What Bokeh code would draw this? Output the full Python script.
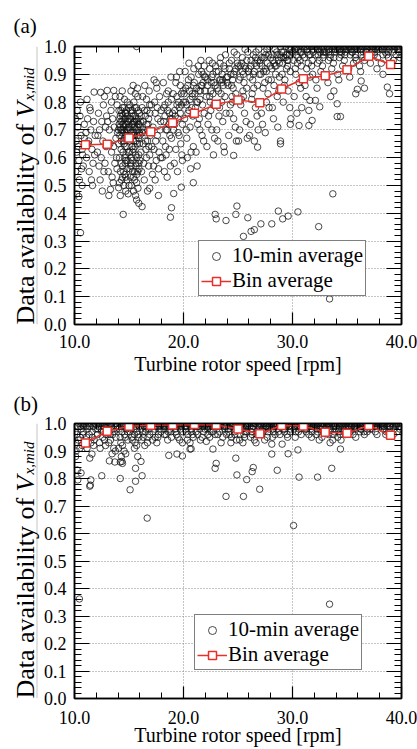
import math
from bokeh.plotting import figure
from bokeh.layouts import column, row
from bokeh.models import (Range1d, LinearAxis, SingleIntervalTicker, PrintfTickFormatter,
                          CustomJSTickFormatter, Legend, LegendItem)
from bokeh.core.properties import value
from bokeh.embed import file_html
from bokeh.resources import INLINE

# ---------------- data ----------------
bin_x = [11, 13, 15, 17, 19, 21, 23, 25, 27, 29, 31, 33, 35, 37, 39]
bin_a = [0.647, 0.648, 0.671, 0.693, 0.726, 0.760, 0.792, 0.808, 0.798, 0.847,
         0.884, 0.895, 0.916, 0.965, 0.935]
bin_b = [0.929, 0.972, 0.990, 0.994, 0.995, 0.996, 0.995, 0.980, 0.963, 0.993,
         0.991, 0.968, 0.965, 0.993, 0.957]

scatter_a = [
    (10.1,.55),(10.2,.62),(10.3,.71),(10.15,.66),(10.4,.59),(10.5,.75),(10.6,.68),(10.25,.77),(10.7,.63),(10.8,.57),(10.45,.52),(10.9,.72),(10.35,.64),(10.55,.80),(10.75,.61),(10.2,.47),(10.55,.33),(10.7,.50),(10.4,.46),(10.9,.67),(10.1,.74),(10.65,.56),
    (11.1,.60),(11.3,.66),(11.5,.70),(11.2,.74),(11.7,.58),(11.8,.836),(11.4,.78),(11.6,.63),(11.9,.68),(11.35,.55),(11.05,.69),(11.55,.52),(11.75,.73),(11.25,.65),(11.85,.61),(11.45,.77),(11.15,.81),(11.65,.50),
    (12.1,.62),(12.4,.835),(12.3,.70),(12.6,.66),(12.8,.58),(12.2,.76),(12.5,.73),(12.7,.55),(12.9,.64),(12.15,.68),(12.45,.60),(12.65,.79),(12.85,.71),(12.35,.52),(12.55,.48),(12.95,.75),(12.25,.57),(12.75,.82),
    (13.0,.842),(13.15,.464),(13.3,.486),(13.1,.55),(13.4,.62),(13.6,.842),(13.2,.70),(13.5,.74),(13.7,.58),(13.8,.67),(13.9,.79),(13.25,.65),(13.45,.53),(13.65,.71),(13.85,.60),(13.35,.77),(13.55,.51),(13.75,.82),(13.95,.69),(13.05,.73),(13.6,.64),(13.9,.56),(13.4,.80),
    (14.05,.492),(14.2,.464),(14.47,.396),(14.7,.48),(14.1,.72),(14.15,.68),(14.2,.75),(14.25,.70),(14.3,.66),(14.35,.73),(14.4,.78),(14.45,.62),(14.5,.71),(14.55,.74),(14.6,.69),(14.65,.58),(14.7,.76),(14.75,.72),(14.8,.64),(14.85,.80),(14.9,.67),(14.95,.73),(14.12,.60),(14.22,.55),(14.32,.52),(14.42,.57),(14.52,.50),(14.62,.54),(14.72,.61),(14.82,.56),(14.92,.47),(14.18,.82),(14.38,.84),(14.58,.81),(14.78,.77),(14.88,.70),(14.28,.63),(14.48,.66),(14.68,.74),(14.08,.77),(14.33,.70),(14.63,.72),(14.83,.68),(14.43,.75),(14.53,.65),(14.73,.59),(14.93,.62),(14.13,.51),
    (14.02,.70),(14.14,.74),(14.26,.77),(14.36,.69),(14.46,.72),(14.56,.67),(14.66,.76),(14.76,.70),(14.86,.73),(14.96,.78),(14.06,.65),(14.16,.71),(14.24,.73),(14.34,.76),(14.44,.70),(14.54,.78),(14.64,.64),(14.74,.68),(14.84,.75),(14.94,.71),
    (14.3,.58),(14.5,.55),(14.7,.53),(14.9,.59),(14.4,.53),(14.6,.60),(14.8,.52),
    (15.05,.71),(15.1,.66),(15.15,.74),(15.2,.60),(15.25,.69),(15.3,.77),(15.35,.72),(15.4,.63),(15.45,.80),(15.5,.68),(15.55,.75),(15.6,.464),(15.7,.448),(15.9,.436),(15.65,.57),(15.7,.73),(15.75,.65),(15.8,.82),(15.85,.70),(15.9,.61),(15.95,.76),(15.12,.53),(15.22,.50),(15.32,.55),(15.42,.48),(15.52,.52),(15.62,.58),(15.72,.54),(15.82,.49),(15.92,.56),(15.18,.84),(15.38,.86),(15.58,.83),(15.78,.85),(15.28,.64),(15.48,.71),(15.68,.78),(15.88,.67),(15.08,.79),(15.33,.62),(15.63,.70),(15.83,.74),(15.43,.66),(15.53,.73),(15.73,.60),(15.93,.72),(15.15,.58),(15.7,1.0),
    (15.02,.74),(15.14,.70),(15.24,.76),(15.34,.68),(15.44,.73),(15.54,.78),(15.64,.66),(15.74,.71),(15.84,.77),(15.94,.69),(15.06,.62),(15.16,.77),(15.26,.72),(15.36,.75),(15.46,.69),(15.56,.64),(15.66,.74),(15.76,.68),(15.86,.72),(15.96,.65),
    (15.1,.56),(15.3,.59),(15.5,.55),(15.7,.51),(15.9,.58),(15.0,.50),(15.2,.57),(15.4,.53),(15.6,.61),(15.8,.55),(16.0,.59),
    (16.2,.424),(16.7,.48),(16.9,.49),(16.1,.62),(16.3,.70),(16.5,.75),(16.7,.66),(16.9,.79),(16.15,.55),(16.35,.58),(16.55,.63),(16.75,.72),(16.95,.68),(16.25,.82),(16.45,.86),(16.65,.77),(16.85,.84),(16.05,.73),(16.4,.52),(16.6,.60),(16.8,.57),(16.2,.78),(16.5,.69),(16.8,.74),(16.3,.65),(16.6,.81),(16.9,.61),(16.0,.68),
    (16.02,.71),(16.12,.75),(16.22,.69),(16.32,.73),(16.42,.77),(16.52,.66),(16.62,.72),(16.72,.70),(16.82,.64),(16.92,.76),
    (17.3,.88),(17.7,.464),(17.1,.64),(17.2,.71),(17.4,.76),(17.5,.59),(17.6,.68),(17.8,.82),(17.9,.73),(17.15,.54),(17.35,.80),(17.55,.85),(17.75,.62),(17.95,.77),(17.25,.57),(17.45,.66),(17.65,.74),(17.85,.70),(17.05,.79),(17.5,.87),(17.7,.56),(17.3,.63),(17.9,.60),(17.6,.78),(17.4,.52),
    (18.8,.386),(18.9,.42),(18.1,.66),(18.2,.73),(18.3,.79),(18.4,.61),(18.5,.70),(18.6,.84),(18.7,.76),(18.8,.57),(18.9,.81),(18.15,.87),(18.35,.64),(18.55,.77),(18.75,.68),(18.95,.74),(18.25,.55),(18.45,.83),(18.65,.72),(18.85,.89),(18.05,.60),(18.5,.53),(18.7,.63),(18.3,.75),(18.9,.67),
    (18.2,.78),(18.6,.80),(18.4,.70),(18.8,.74),
    (19.1,.471),(19.8,.494),(19.1,.70),(19.2,.77),(19.3,.63),(19.4,.82),(19.5,.74),(19.6,.68),(19.7,.86),(19.8,.79),(19.9,.72),(19.15,.58),(19.35,.89),(19.55,.80),(19.75,.65),(19.95,.84),(19.25,.75),(19.45,.55),(19.65,.91),(19.85,.61),(19.05,.83),(19.5,.69),(19.7,.76),(19.3,.87),(19.9,.59),
    (19.0,.76),(19.4,.79),(19.8,.83),(19.2,.72),(19.6,.78),
    (20.9,.51),(20.1,.74),(20.2,.80),(20.3,.67),(20.4,.86),(20.5,.77),(20.6,.71),(20.7,.89),(20.8,.82),(20.9,.64),(20.15,.91),(20.35,.60),(20.55,.84),(20.75,.78),(20.95,.92),(20.25,.70),(20.45,.88),(20.65,.56),(20.85,.75),(20.05,.83),(20.5,.94),(20.7,.62),(20.3,.79),(20.9,.86),
    (20.2,.85),(20.6,.81),(20.0,.80),(20.4,.76),(20.8,.83),
    (21.1,.78),(21.2,.85),(21.3,.72),(21.4,.90),(21.5,.81),(21.6,.95),(21.7,.68),(21.8,.87),(21.9,.76),(21.15,.62),(21.35,.93),(21.55,.84),(21.75,.79),(21.95,.89),(21.25,.57),(21.45,.74),(21.65,.91),(21.85,.66),(21.05,.83),(21.5,.70),(21.7,.86),(21.3,.80),(21.9,.93),
    (21.0,.87),(21.4,.84),(21.8,.90),(21.2,.80),(21.6,.86),
    (22.1,.82),(22.2,.88),(22.3,.75),(22.4,.92),(22.5,.84),(22.6,.70),(22.7,.90),(22.8,.79),(22.9,.86),(22.15,.64),(22.35,.95),(22.55,.87),(22.75,.61),(22.95,.93),(22.25,.72),(22.45,.80),(22.65,.94),(22.85,.67),(22.05,.89),(22.9,.396),(23.0,.38),(22.5,.77),(22.7,.83),
    (22.2,.86),(22.6,.89),(22.0,.84),(22.4,.82),(22.8,.87),
    (23.1,.85),(23.2,.91),(23.3,.78),(23.4,.96),(23.5,.87),(23.6,.73),(23.7,.93),(23.8,.82),(23.9,.374),(23.95,.89),(23.15,.66),(23.35,.94),(23.55,.90),(23.75,.62),(23.85,.97),(23.25,.75),(23.45,.83),(23.65,.86),(23.05,.70),(23.5,.80),(23.7,.64),(23.3,.88),(23.9,.76),
    (23.0,.91),(23.4,.88),(23.8,.92),(23.2,.84),(23.6,.88),
    (24.8,.396),(24.9,.426),(24.6,.608),(24.1,.86),(24.2,.92),(24.3,.79),(24.4,.95),(24.5,.88),(24.6,.74),(24.7,.91),(24.8,.83),(24.9,.97),(24.15,.68),(24.35,.90),(24.55,.85),(24.75,.71),(24.95,.94),(24.25,.76),(24.45,.82),(24.65,.98),(24.05,.89),(24.85,.66),(24.5,.80),
    (24.2,.94),(24.6,.90),(24.0,.87),(24.4,.86),(24.8,.92),
    (25.9,.384),(25.5,.317),(25.1,.88),(25.2,.93),(25.3,.81),(25.4,.96),(25.5,.90),(25.6,.76),(25.7,.92),(25.8,.85),(25.9,.98),(25.15,.70),(25.35,.94),(25.55,.87),(25.75,.73),(25.95,.91),(25.25,.79),(25.45,.84),(25.65,.99),(25.05,.66),(25.85,.67),(25.5,.82),
    (25.0,.93),(25.4,.91),(25.8,.95),(25.2,.89),(25.6,.93),
    (26.2,.335),(26.5,.341),(26.8,.638),(26.1,.89),(26.2,.95),(26.3,.83),(26.4,.97),(26.5,.91),(26.6,.78),(26.7,.93),(26.8,.86),(26.9,.99),(26.15,.72),(26.35,.88),(26.55,.94),(26.75,.75),(26.95,.90),(26.25,.81),(26.45,.85),(26.65,.98),(26.05,.68),(26.85,.70),(26.5,.66),
    (26.2,.93),(26.6,.96),(26.0,.92),(26.4,.90),(26.8,.95),
    (27.1,.362),(27.1,.90),(27.2,.96),(27.3,.85),(27.4,.98),(27.5,.92),(27.6,.80),(27.7,.94),(27.8,.88),(27.9,1.0),(27.15,.76),(27.35,.91),(27.55,.97),(27.75,.83),(27.95,.93),(27.25,.72),(27.45,.87),(27.65,.99),(27.85,.78),(27.5,.69),(27.05,.95),
    (27.0,.94),(27.4,.96),(27.8,.97),(27.2,.93),(27.6,.91),
    (28.1,.362),(28.7,.408),(28.9,.66),(28.9,.65),(28.1,.92),(28.2,.97),(28.3,.86),(28.4,.99),(28.5,.93),(28.6,.82),(28.7,.95),(28.8,.89),(28.9,1.0),(28.15,.78),(28.35,.94),(28.55,.98),(28.75,.84),(28.95,.96),(28.25,.74),(28.45,.90),(28.65,.71),(28.85,.97),(28.05,.88),
    (28.2,.95),(28.6,.97),(28.0,.96),(28.4,.93),(28.8,.94),
    (29.1,.38),(29.6,.39),(29.1,.94),(29.2,.98),(29.3,.88),(29.4,1.0),(29.5,.95),(29.6,.84),(29.7,.97),(29.8,.91),(29.9,.99),(29.15,.80),(29.35,.96),(29.55,.93),(29.75,.78),(29.95,.98),(29.25,.86),(29.45,.92),(29.65,.99),(29.85,.74),(29.05,.90),(29.8,.72),(29.5,.97),
    (29.0,.98),(29.4,.97),(29.8,.99),(29.2,.96),(29.6,.95),
    (30.5,.405),(30.6,.28),(30.6,.716),(30.1,.95),(30.2,.99),(30.3,.90),(30.4,1.0),(30.5,.96),(30.6,.87),(30.7,.98),(30.8,.93),(30.9,1.0),(30.15,.82),(30.35,.97),(30.55,.99),(30.75,.85),(30.95,.97),(30.25,.92),(30.45,.94),(30.65,1.0),(30.85,.78),(30.05,.98),(30.4,.76),(30.7,.95),
    (30.3,.99),(30.8,.98),
    (31.5,.716),(31.8,.734),(31.6,.806),(31.5,.77),(31.1,.96),(31.2,1.0),(31.3,.92),(31.4,.99),(31.5,.97),(31.6,.89),(31.7,1.0),(31.8,.95),(31.9,.98),(31.15,.86),(31.35,.98),(31.55,1.0),(31.75,.93),(31.95,.99),(31.25,.82),(31.45,.94),(31.65,.97),(31.85,.90),(31.05,.99),
    (31.3,.99),(31.8,1.0),
    (32.4,.352),(32.5,.783),(32.1,.806),(32.1,.97),(32.2,1.0),(32.3,.94),(32.4,.99),(32.5,.98),(32.6,.91),(32.7,1.0),(32.8,.96),(32.9,.99),(32.15,.88),(32.35,.97),(32.55,1.0),(32.75,.93),(32.95,.98),(32.25,.85),(32.45,.95),(32.65,.99),(32.85,.97),(32.05,1.0),
    (32.3,.99),(32.8,.98),
    (33.7,.47),(33.4,.092),(33.5,.82),(33.8,.84),(33.1,.98),(33.2,1.0),(33.3,.95),(33.4,.99),(33.5,.97),(33.6,.92),(33.7,1.0),(33.8,.96),(33.9,.99),(33.15,.89),(33.35,.98),(33.55,1.0),(33.75,.94),(33.95,.99),(33.25,.87),(33.45,.96),(33.65,.99),(33.85,.98),
    (33.3,.99),(33.8,1.0),
    (34.1,.748),(34.4,.748),(34.1,.794),(34.1,.99),(34.2,1.0),(34.3,.96),(34.4,.99),(34.5,.98),(34.6,.93),(34.7,1.0),(34.8,.97),(34.9,1.0),(34.15,.90),(34.35,.98),(34.55,1.0),(34.75,.95),(34.95,.99),(34.25,.88),(34.45,.97),(34.65,.99),(34.85,.98),
    (34.3,.99),(34.8,.99),
    (35.8,.83),(35.95,.846),(35.1,.99),(35.2,1.0),(35.3,.97),(35.4,.99),(35.5,.98),(35.6,.94),(35.7,1.0),(35.8,.97),(35.9,1.0),(35.15,.92),(35.35,.99),(35.55,1.0),(35.75,.96),(35.95,.99),(35.25,.89),(35.45,.98),(35.65,.99),(35.85,.95),
    (35.3,1.0),(35.8,.99),
    (36.3,.876),(36.6,.85),(36.1,1.0),(36.2,.99),(36.3,.97),(36.4,1.0),(36.5,.98),(36.6,.95),(36.7,1.0),(36.8,.99),(36.9,.97),(36.15,.93),(36.35,.99),(36.55,1.0),(36.75,.98),(36.95,1.0),(36.25,.91),(36.45,.96),
    (36.3,1.0),(36.8,.98),
    (37.1,1.0),(37.2,.99),(37.3,.98),(37.4,1.0),(37.5,.97),(37.6,.99),(37.7,1.0),(37.8,.96),(37.9,.99),(37.15,.94),(37.35,1.0),(37.55,.98),(37.75,.92),(37.95,1.0),(37.45,.99),
    (37.3,.99),(37.8,1.0),
    (38.3,.90),(38.7,.854),(38.9,.83),(38.1,1.0),(38.2,.99),(38.3,.97),(38.4,1.0),(38.5,.98),(38.6,.99),(38.7,1.0),(38.8,.96),(38.9,.99),(38.15,.94),(38.45,1.0),(38.65,.97),(38.85,1.0),
    (38.3,.99),(38.8,.98),
    (39.1,1.0),(39.2,.98),(39.3,.99),(39.4,1.0),(39.5,.97),(39.6,.99),(39.7,1.0),(39.8,.98),(39.9,.99),(39.25,.95),(39.55,1.0),(39.85,.96),
    (39.3,1.0),(39.7,.99),
]

scatter_b = [
    (10.1,.93),(10.2,.96),(10.3,.99),(10.4,1.0),(10.5,.95),(10.6,.98),(10.7,.92),(10.8,.97),(10.9,1.0),(10.15,.90),(10.35,.94),(10.55,.99),(10.75,.96),(10.95,.93),(10.25,.831),(10.3,.795),(10.6,.82),(10.45,.362),(10.1,.88),(10.65,1.0),(10.85,.99),(10.05,.97),(10.5,.91),
    (11.4,.874),(11.6,.889),(11.5,.795),(11.45,.776),(11.4,.772),(11.1,.95),(11.2,.98),(11.3,1.0),(11.5,.93),(11.6,.97),(11.7,.99),(11.8,.94),(11.9,1.0),(11.15,.91),(11.35,.96),(11.55,1.0),(11.75,.92),(11.95,.98),(11.25,.99),(11.65,.95),(11.05,.99),
    (12.5,.81),(12.1,.96),(12.2,.99),(12.3,.93),(12.4,1.0),(12.5,.97),(12.6,.95),(12.7,.99),(12.8,1.0),(12.9,.96),(12.15,.98),(12.35,.91),(12.55,1.0),(12.75,.94),(12.95,.99),(12.25,1.0),(12.65,.97),(12.85,.92),(12.45,.98),
    (13.2,.864),(13.7,.86),(13.1,.97),(13.2,1.0),(13.3,.94),(13.4,.99),(13.5,.96),(13.6,.91),(13.7,1.0),(13.8,.95),(13.9,.98),(13.15,.93),(13.35,1.0),(13.55,.98),(13.75,.90),(13.95,.99),(13.25,.96),(13.45,.89),(13.65,.97),(13.85,1.0),(13.05,.99),
    (14.2,.80),(14.35,.862),(14.2,.86),(14.4,.855),(14.1,.98),(14.2,.95),(14.3,.99),(14.4,.92),(14.5,1.0),(14.6,.96),(14.7,.89),(14.8,.99),(14.9,.94),(14.15,1.0),(14.35,.97),(14.55,.90),(14.75,.98),(14.95,1.0),(14.25,.93),(14.45,.99),(14.65,.95),(14.85,.97),(14.05,.91),(14.6,1.0),(14.3,.88),
    (15.1,.759),(15.6,.837),(15.6,.79),(15.8,.88),(15.1,.97),(15.2,.99),(15.3,.94),(15.4,1.0),(15.5,.96),(15.6,.99),(15.7,.92),(15.8,1.0),(15.9,.95),(15.15,.98),(15.35,1.0),(15.55,.93),(15.75,.97),(15.95,.99),(15.25,.95),(15.45,.98),(15.65,1.0),(15.85,.96),(15.05,1.0),(15.5,.91),
    (16.1,.862),(16.2,.81),(16.67,.656),(16.1,.98),(16.2,1.0),(16.3,.95),(16.4,.99),(16.5,.97),(16.6,1.0),(16.7,.93),(16.8,.99),(16.9,.96),(16.15,.94),(16.35,1.0),(16.55,.98),(16.75,.95),(16.95,1.0),(16.25,.97),(16.45,.92),(16.65,.99),(16.85,.98),(16.05,1.0),
    (17.1,.99),(17.2,.97),(17.3,1.0),(17.4,.95),(17.5,.99),(17.6,1.0),(17.7,.96),(17.8,.98),(17.9,1.0),(17.15,.94),(17.35,.98),(17.55,.93),(17.75,1.0),(17.95,.97),(17.25,1.0),(17.45,.99),(17.65,.95),(17.85,.99),
    (18.65,.884),(18.1,1.0),(18.2,.98),(18.3,.99),(18.4,.96),(18.5,1.0),(18.6,.97),(18.7,.99),(18.8,1.0),(18.9,.95),(18.15,.99),(18.35,1.0),(18.55,.94),(18.75,.98),(18.95,1.0),(18.25,.96),(18.45,.99),(18.85,.97),
    (19.4,.889),(19.9,.882),(19.1,.99),(19.2,1.0),(19.3,.97),(19.4,.99),(19.5,.95),(19.6,1.0),(19.7,.98),(19.8,.99),(19.9,.93),(19.15,1.0),(19.35,.96),(19.55,.99),(19.75,1.0),(19.95,.97),(19.25,.98),(19.65,.94),(19.85,1.0),
    (20.6,.907),(20.6,.93),(20.7,.908),(20.1,1.0),(20.2,.98),(20.3,.99),(20.4,.96),(20.5,1.0),(20.6,.99),(20.7,.97),(20.8,1.0),(20.9,.95),(20.15,.99),(20.35,.94),(20.55,1.0),(20.75,.98),(20.95,.99),(20.25,.97),(20.45,1.0),(20.85,.96),
    (21.1,.99),(21.2,1.0),(21.3,.96),(21.4,.99),(21.5,.98),(21.6,1.0),(21.7,.95),(21.8,.99),(21.9,1.0),(21.15,.97),(21.35,1.0),(21.55,.94),(21.75,.99),(21.95,.98),(21.25,.99),(21.65,1.0),(21.85,.97),
    (22.1,.935),(22.7,.907),(22.9,.837),(23.0,.855),(22.1,1.0),(22.2,.98),(22.3,.99),(22.4,.95),(22.5,1.0),(22.6,.99),(22.7,.97),(22.8,1.0),(22.9,.96),(22.15,.99),(22.35,1.0),(22.55,.97),(22.75,.99),(22.95,1.0),(22.25,.96),(22.45,.98),(22.85,.99),
    (23.9,.735),(23.1,.99),(23.2,1.0),(23.3,.97),(23.4,.99),(23.5,1.0),(23.6,.95),(23.7,.99),(23.8,.98),(23.9,1.0),(23.15,.96),(23.35,1.0),(23.55,.98),(23.75,.99),(23.95,.96),(23.25,.99),(23.45,.93),(23.65,1.0),
    (24.8,.874),(24.9,.813),(24.1,.98),(24.2,1.0),(24.3,.99),(24.4,.95),(24.5,.99),(24.6,1.0),(24.7,.96),(24.8,.99),(24.9,1.0),(24.15,.97),(24.35,.93),(24.55,1.0),(24.75,.98),(24.95,.99),(24.25,.96),(24.45,1.0),(24.65,.97),(24.85,.94),
    (25.5,.735),(25.8,.796),(25.1,.99),(25.2,.96),(25.3,1.0),(25.4,.98),(25.5,.99),(25.6,.95),(25.7,1.0),(25.8,.97),(25.9,.99),(25.15,.94),(25.35,1.0),(25.55,.96),(25.75,.99),(25.95,1.0),(25.25,.98),(25.45,.93),(25.65,.97),(25.85,1.0),
    (26.3,.825),(26.4,.84),(26.99,.761),(26.1,.99),(26.2,1.0),(26.3,.96),(26.4,.99),(26.5,.94),(26.6,1.0),(26.7,.97),(26.8,.99),(26.9,1.0),(26.15,.95),(26.35,.98),(26.55,1.0),(26.75,.96),(26.95,.99),(26.25,.97),(26.45,1.0),(26.65,.93),
    (27.1,1.0),(27.2,.99),(27.3,.97),(27.4,1.0),(27.5,.98),(27.6,.99),(27.7,.95),(27.8,1.0),(27.9,.99),(27.15,.96),(27.35,1.0),(27.55,.99),(27.75,.97),(27.95,1.0),(27.25,.98),(27.45,.94),(27.65,1.0),(27.85,.98),
    (28.1,.889),(28.1,.925),(28.6,.83),(28.1,1.0),(28.2,.98),(28.3,.99),(28.4,.96),(28.5,1.0),(28.6,.99),(28.7,.97),(28.8,1.0),(28.9,.99),(28.15,.95),(28.35,1.0),(28.55,.98),(28.75,.99),(28.95,1.0),(28.25,.97),(28.45,.99),(28.85,.96),
    (29.05,.925),(29.6,.89),(29.1,.99),(29.2,1.0),(29.3,.98),(29.4,.99),(29.5,.96),(29.6,1.0),(29.7,.99),(29.8,.97),(29.9,1.0),(29.15,.98),(29.35,1.0),(29.55,.95),(29.75,.99),(29.95,1.0),(29.25,.97),(29.45,.99),(29.85,.98),
    (30.1,.629),(30.5,.904),(30.6,.805),(30.1,1.0),(30.2,.99),(30.3,.97),(30.4,1.0),(30.5,.99),(30.6,.98),(30.7,1.0),(30.8,.96),(30.9,.99),(30.15,.98),(30.35,1.0),(30.55,.97),(30.75,.99),(30.95,1.0),(30.25,.95),(30.45,.99),(30.85,1.0),
    (31.1,.99),(31.2,1.0),(31.3,.98),(31.4,.99),(31.5,.96),(31.6,1.0),(31.7,.99),(31.8,.97),(31.9,1.0),(31.15,.98),(31.35,1.0),(31.55,.99),(31.75,.95),(31.95,.99),(31.25,.97),(31.45,1.0),(31.65,.98),(31.85,.99),
    (32.3,.805),(32.1,1.0),(32.2,.99),(32.3,.97),(32.4,1.0),(32.5,.98),(32.6,.99),(32.7,.95),(32.8,1.0),(32.9,.99),(32.15,.96),(32.35,1.0),(32.55,.98),(32.75,.99),(32.95,1.0),(32.25,.98),(32.45,.94),(32.65,1.0),(32.85,.97),
    (33.6,.837),(33.4,.343),(33.1,.99),(33.2,1.0),(33.3,.96),(33.4,.99),(33.5,.98),(33.6,1.0),(33.7,.94),(33.8,.99),(33.9,1.0),(33.15,.97),(33.35,1.0),(33.55,.99),(33.75,.96),(33.95,.98),(33.25,.99),(33.45,.93),(33.65,1.0),(33.85,.97),
    (34.4,.907),(34.1,1.0),(34.2,.98),(34.3,.99),(34.4,.96),(34.5,1.0),(34.6,.99),(34.7,.97),(34.8,1.0),(34.9,.99),(34.15,.95),(34.35,1.0),(34.55,.98),(34.75,.99),(34.95,1.0),(34.25,.97),(34.45,.94),(34.65,1.0),(34.85,.96),
    (35.1,.99),(35.2,1.0),(35.3,.97),(35.4,.99),(35.5,1.0),(35.6,.98),(35.7,.99),(35.8,.95),(35.9,1.0),(35.15,.98),(35.35,1.0),(35.55,.96),(35.75,.99),(35.95,1.0),(35.25,.97),(35.45,.99),(35.65,1.0),(35.85,.98),
    (36.2,.97),(36.1,1.0),(36.2,.99),(36.3,.98),(36.4,1.0),(36.5,.99),(36.6,.96),(36.7,1.0),(36.8,.99),(36.9,.98),(36.15,1.0),(36.35,.99),(36.55,.97),(36.75,1.0),(36.95,.99),(36.25,.98),(36.45,1.0),(36.85,.97),
    (37.1,1.0),(37.2,.99),(37.3,.98),(37.4,1.0),(37.5,.99),(37.6,.97),(37.7,1.0),(37.8,.99),(37.9,1.0),(37.15,.98),(37.35,1.0),(37.55,.99),(37.75,.96),(37.95,1.0),(37.25,.99),(37.65,1.0),
    (38.1,.99),(38.2,1.0),(38.3,.98),(38.4,.99),(38.5,1.0),(38.6,.97),(38.7,.99),(38.8,1.0),(38.9,.98),(38.15,1.0),(38.35,.99),(38.55,.96),(38.75,1.0),(38.95,.99),(38.45,.98),
    (39.1,1.0),(39.2,.99),(39.3,.98),(39.4,1.0),(39.5,.99),(39.6,.97),(39.7,1.0),(39.8,.99),(39.9,1.0),(39.25,.96),(39.55,1.0),(39.85,.98),
    (10.7,.995),(11.4,.99),(12.0,.995),(12.6,.99),(13.3,.995),(13.9,.99),(14.5,.995),(15.2,.99),(15.8,.995),(16.4,.99),(17.0,.995),(17.6,.99),(18.2,.995),(18.9,.99),(19.5,.995),(20.2,.99),(20.8,.995),(21.4,.99),(22.0,.995),(22.6,.99),(23.3,.995),(23.9,.99),(24.5,.995),(25.2,.99),(25.8,.995),(26.4,.99),(27.0,.995),(27.6,.99),(28.3,.995),(28.9,.99),(29.5,.995),(30.2,.99),(30.8,.995),(31.4,.99),(32.0,.995),(32.6,.99),(33.3,.995),(33.9,.99),(34.5,.995),(35.2,.99),(35.8,.995),(36.4,.99),(37.0,.995),(37.6,.99),(38.3,.995),(38.9,.99),(39.5,.995),
]

x_label = "Turbine rotor speed [rpm]"
y_label_main = "Data availability of"
y_label_var = "V"
y_label_sub = "x,mid"
legend_labels = ["10-min average", "Bin average"]
panel_tags = ["(a)", "(b)"]

FONT = "Liberation Serif"
RED = "#e8302a"
STRIP_W = 40


def style_axis(ax, major_in, minor_in, labels):
    ax.major_tick_in = major_in
    ax.major_tick_out = 0
    ax.minor_tick_in = minor_in
    ax.minor_tick_out = 0
    ax.axis_line_color = "black"
    ax.axis_line_width = 1.5
    ax.major_tick_line_color = "black"
    ax.major_tick_line_width = 1.2
    ax.minor_tick_line_color = "black"
    ax.minor_tick_line_width = 1
    ax.major_label_text_font = FONT
    ax.major_label_text_color = "black"
    if labels:
        ax.formatter = PrintfTickFormatter(format="%.1f")
        ax.major_label_text_font_size = "18px"
    else:
        ax.formatter = CustomJSTickFormatter(code="return ''")
        ax.major_label_standoff = 0


def make_strip(tag, frame_h, top, bottom, lab_x, lab_y0, tag_standoff, tag_valign):
    # left strip sharing the panel's frame rows; coordinates are pixels from frame bottom
    s = figure(frame_width=STRIP_W, frame_height=frame_h, x_range=Range1d(0, STRIP_W),
               y_range=Range1d(0, frame_h), output_backend="svg", toolbar_location=None,
               x_axis_type=None, y_axis_type=None, title=tag,
               min_border_left=0, min_border_right=0,
               min_border_top=top, min_border_bottom=bottom,
               background_fill_color="white", border_fill_color="white")
    s.outline_line_color = None
    s.grid.visible = False
    s.title.text_font = FONT
    s.title.text_font_size = "21px"
    s.title.text_font_style = "normal"
    s.title.text_color = "black"
    s.title.align = "left"
    s.title.vertical_align = tag_valign
    s.title.offset = 13
    s.title.standoff = tag_standoff
    s.segment(x0=[36.5], y0=[0], x1=[36.5], y1=[frame_h],
              line_color="#c4c4c4", line_width=1)
    ang = math.pi / 2
    s.text(x=[lab_x], y=[lab_y0], text=[y_label_main], angle=ang,
           text_font=value(FONT), text_font_size=value("26px"), text_color="black",
           text_align="left", text_baseline="alphabetic")
    s.text(x=[lab_x], y=[lab_y0 + 207], text=[y_label_var], angle=ang,
           text_font=value(FONT), text_font_size=value("26px"), text_font_style="italic",
           text_color="black", text_align="left", text_baseline="alphabetic")
    s.text(x=[lab_x + 3], y=[lab_y0 + 224], text=[y_label_sub], angle=ang,
           text_font=value(FONT), text_font_size=value("15px"), text_font_style="italic",
           text_color="black", text_align="left", text_baseline="alphabetic")
    return s


def make_panel(pts, bins, frame_h, top, bottom, tick_standoff, lab_standoff, leg_loc):
    p = figure(frame_width=327, frame_height=frame_h, x_range=Range1d(10, 40),
               y_range=Range1d(0, 1.0), output_backend="svg", toolbar_location=None,
               min_border_left=74 - STRIP_W, min_border_right=16,
               min_border_top=top, min_border_bottom=bottom,
               background_fill_color="white", border_fill_color="white")
    p.outline_line_color = "black"
    p.outline_line_width = 1.5

    xt = SingleIntervalTicker(interval=10, num_minor_ticks=5)
    yt = SingleIntervalTicker(interval=0.1, num_minor_ticks=5)

    xa = p.xaxis[0]
    xa.ticker = xt
    style_axis(xa, 12, 6, True)
    xa.major_label_standoff = tick_standoff
    xa.axis_label = x_label
    xa.axis_label_text_font = FONT
    xa.axis_label_text_font_style = "normal"
    xa.axis_label_text_font_size = "20px"
    xa.axis_label_text_color = "black"
    xa.axis_label_standoff = lab_standoff

    ya = p.yaxis[0]
    ya.ticker = yt
    style_axis(ya, 15, 7, True)
    ya.major_label_standoff = 8

    top_ax = LinearAxis(ticker=SingleIntervalTicker(interval=10, num_minor_ticks=5))
    style_axis(top_ax, 12, 6, False)
    p.add_layout(top_ax, "above")
    right_ax = LinearAxis(ticker=SingleIntervalTicker(interval=0.1, num_minor_ticks=5))
    style_axis(right_ax, 15, 7, False)
    p.add_layout(right_ax, "right")

    for g in (p.xgrid[0], p.ygrid[0]):
        g.grid_line_color = "#8a8a8a"
        g.grid_line_dash = "1 2"
        g.grid_line_width = 1
    p.xgrid[0].ticker = xt
    p.ygrid[0].ticker = yt

    xs = [q[0] for q in pts]
    ys = [q[1] for q in pts]
    sc = p.scatter(xs, ys, marker="circle", size=6.5, fill_color=None,
                   line_color="#111111", line_width=0.9, line_alpha=0.85)
    ln = p.line(bin_x, bins, line_color=RED, line_width=1.5)
    sq = p.scatter(bin_x, bins, marker="square", size=8, fill_color="white",
                   line_color=RED, line_width=1.5)

    legend = Legend(items=[LegendItem(label=legend_labels[0], renderers=[sc]),
                           LegendItem(label=legend_labels[1], renderers=[ln, sq])],
                    location=leg_loc)
    legend.label_text_font = FONT
    legend.label_text_font_size = "21px"
    legend.label_text_color = "black"
    legend.label_height = 20
    legend.label_standoff = 1
    legend.glyph_width = 30
    legend.glyph_height = 20
    legend.spacing = 0
    legend.padding = 2
    legend.margin = 0
    legend.border_line_color = "black"
    legend.border_line_width = 1
    legend.background_fill_color = "white"
    legend.background_fill_alpha = 1
    p.add_layout(legend)
    return p


# panel (a): rows 0..382, frame 46..324
pa = make_panel(scatter_a, bin_a, 278, 46, 58, 10, 2, (124, 28))
sa = make_strip(panel_tags[0], 278, 46, 58, 25, 0, 17, "bottom")
# panel (b): rows 382..749, frame 422..697
pb = make_panel(scatter_b, bin_b, 275, 40, 52, 12, -3, (120, 28))
sb = make_strip(panel_tags[1], 275, 40, 52, 25, 0, 15, "bottom")

layout = column(row(sa, pa, spacing=0), row(sb, pb, spacing=0), spacing=0)
open("out.html", "w").write(file_html(layout, INLINE))
